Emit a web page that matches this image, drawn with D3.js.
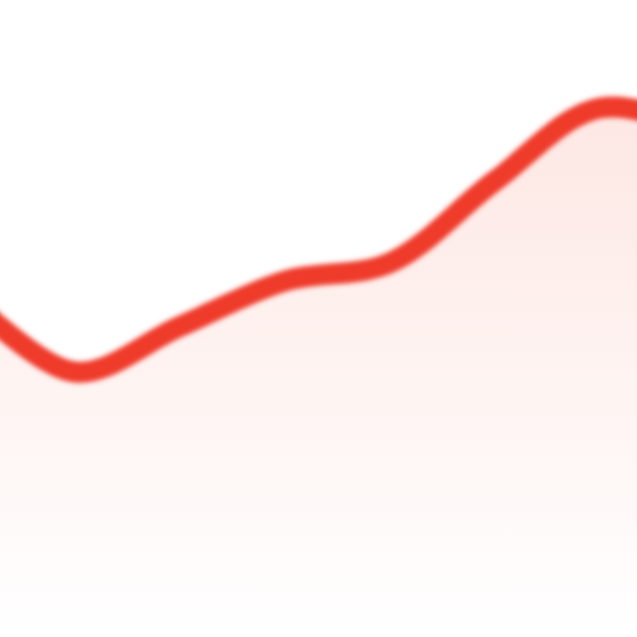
<!DOCTYPE html>
<html>
<head>
<meta charset="utf-8">
<script src="https://cdn.jsdelivr.net/npm/d3@7"></script>
<style>
  html, body { margin: 0; padding: 0; background: #fff; }
  svg { display: block; }
</style>
</head>
<body>
<div id="chart"></div>
<script>
// sparkline values (higher = up)
var steps = [0, 1, 2, 3, 4, 5, 6, 7, 8];
var values = [34, 26, 31, 36, 38, 47, 55, 52, 45];

var width = 637, height = 637;

var svg = d3.select("#chart").append("svg")
    .attr("width", width)
    .attr("height", height);

// x: points step ~105px, first point sits off the left edge
var x = d3.scaleLinear()
    .domain([0, 1])
    .range([-30, 75]);

var y = d3.scaleLinear()
    .domain([26, 55])
    .range([372, 108]);

var data = steps.map(function(s, i){ return {s: s, v: values[i]}; });

var defs = svg.append("defs");
var grad = defs.append("linearGradient")
    .attr("id", "fillGrad")
    .attr("gradientUnits", "userSpaceOnUse")
    .attr("x1", 0).attr("y1", 100).attr("x2", 0).attr("y2", 637);
grad.append("stop").attr("offset", "0%").attr("stop-color", "#fde7e3");
grad.append("stop").attr("offset", "100%").attr("stop-color", "#ffffff");

defs.append("filter").attr("id", "soft")
    .attr("x", "-10%").attr("y", "-10%").attr("width", "120%").attr("height", "120%")
  .append("feGaussianBlur").attr("stdDeviation", 2.5);

var area = d3.area()
    .x(function(d){ return x(d.s); })
    .y0(height)
    .y1(function(d){ return y(d.v); })
    .curve(d3.curveCatmullRom.alpha(0.5));

var line = d3.line()
    .x(function(d){ return x(d.s); })
    .y(function(d){ return y(d.v); })
    .curve(d3.curveCatmullRom.alpha(0.5));

svg.append("path")
    .datum(data)
    .attr("d", area)
    .attr("fill", "url(#fillGrad)");

svg.append("path")
    .datum(data)
    .attr("d", line)
    .attr("fill", "none")
    .attr("stroke", "#ef3a2c")
    .attr("stroke-width", 21)
    .attr("stroke-linejoin", "round")
    .attr("filter", "url(#soft)");
</script>
</body>
</html>
